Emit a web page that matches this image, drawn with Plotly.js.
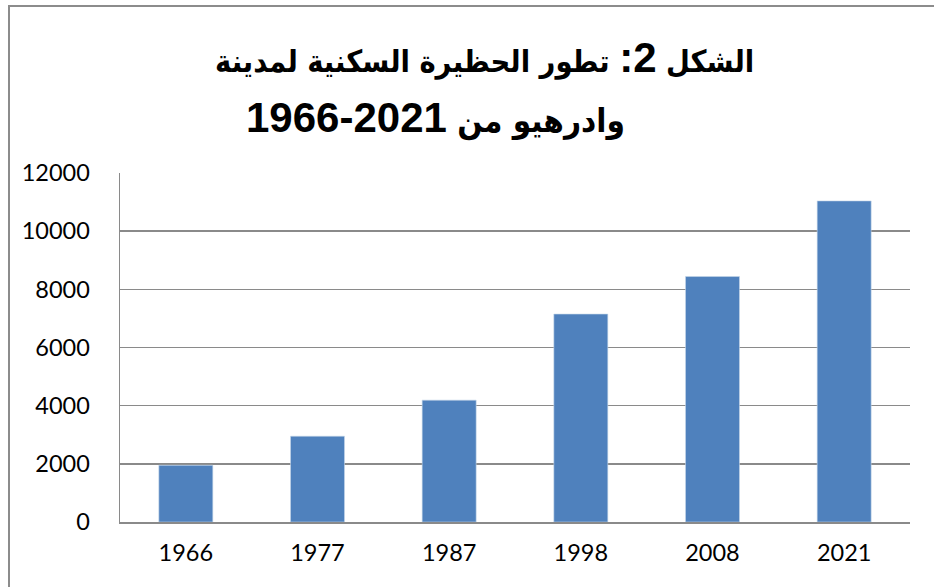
<!DOCTYPE html>
<html>
<head>
<meta charset="utf-8">
<script src="https://cdn.plot.ly/plotly-3.0.1.min.js"></script>
<style>
  html, body { margin: 0; padding: 0; background: #ffffff; }
  #wrap { position: relative; width: 934px; height: 587px; overflow: hidden; }
  #chart { position: absolute; left: 0; top: 0; width: 934px; height: 587px; }
  #frame { position: absolute; left: 8px; top: 5px; width: 1000px; height: 1000px;
           border-left: 2px solid #8c8c8c; border-top: 2px solid #8c8c8c; pointer-events: none; }
</style>
</head>
<body>
<div id="wrap">
  <div id="chart"></div>
  <div id="frame"></div>
</div>
<script>
// Data
const years = ["1966", "1977", "1987", "1998", "2008", "2021"];
const dwellings = [1950, 2950, 4190, 7150, 8440, 11040];
const yTicks = [0, 2000, 4000, 6000, 8000, 10000, 12000];
// Title pieces (Arabic words and the Latin-digit parts)
const titleWordA = "الشكل";
const titleNumA = "2:";
const titleWordB = "تطور الحظيرة السكنية لمدينة";
const titleWordC = "وادرهيو من";
const titleNumC = "2021-1966";   // shown right-to-left as 1966-2021

const arabicSpan = (t, s) => "<span style=\"font-family:'DejaVu Sans Condensed','DejaVu Sans';font-size:" + s + "px\">" + t + "</span>";
const titleLine1 = arabicSpan(titleWordA + " ", 30.5) + titleNumA + arabicSpan(" " + titleWordB, 30.5);
const titleLine2 = arabicSpan(titleWordC + " ", 33) + titleNumC;

const gridColor = "#8a8a8a";
const tickFont = { family: "Lato, 'Open Sans', sans-serif", size: 23.5, color: "#000000" };
const titleFont = { family: "'Liberation Sans', Arial, 'DejaVu Sans', sans-serif", size: 42, color: "#000000", weight: "bold" };

const trace = {
  type: "bar",
  x: years,
  y: dwellings,
  marker: { color: "#4f81bd", line: { color: "#c6d6ea", width: 0.6 } },
  hoverinfo: "x+y"
};

const layout = {
  width: 934,
  height: 587,
  margin: { l: 120, r: 24, t: 173, b: 65 },
  paper_bgcolor: "#ffffff",
  plot_bgcolor: "#ffffff",
  showlegend: false,
  bargap: 0.59,
  xaxis: {
    type: "category",
    showgrid: false,
    showline: true,
    linecolor: gridColor,
    linewidth: 2,
    ticks: "",
    tickfont: tickFont,
    ticklabelstandoff: 9,
    fixedrange: true
  },
  yaxis: {
    range: [0, 12000],
    tickvals: yTicks,
    ticktext: yTicks.map(String),
    showgrid: true,
    gridcolor: gridColor,
    gridwidth: 1.6,
    zeroline: false,
    showline: true,
    linecolor: gridColor,
    linewidth: 1.5,
    ticks: "",
    tickfont: tickFont,
    ticklabelstandoff: 24,
    fixedrange: true
  },
  annotations: [
    {
      text: titleLine1, xref: "paper", yref: "paper",
      x: (484 - 120) / 790, y: (522 - 57) / 349,
      xanchor: "center", yanchor: "middle", showarrow: false,
      font: titleFont
    },
    {
      text: titleLine2, xref: "paper", yref: "paper",
      x: (435 - 120) / 790, y: (522 - 117) / 349,
      xanchor: "center", yanchor: "middle", showarrow: false,
      font: titleFont
    }
  ]
};

Plotly.newPlot("chart", [trace], layout, { displayModeBar: false, staticPlot: true });
</script>
</body>
</html>
